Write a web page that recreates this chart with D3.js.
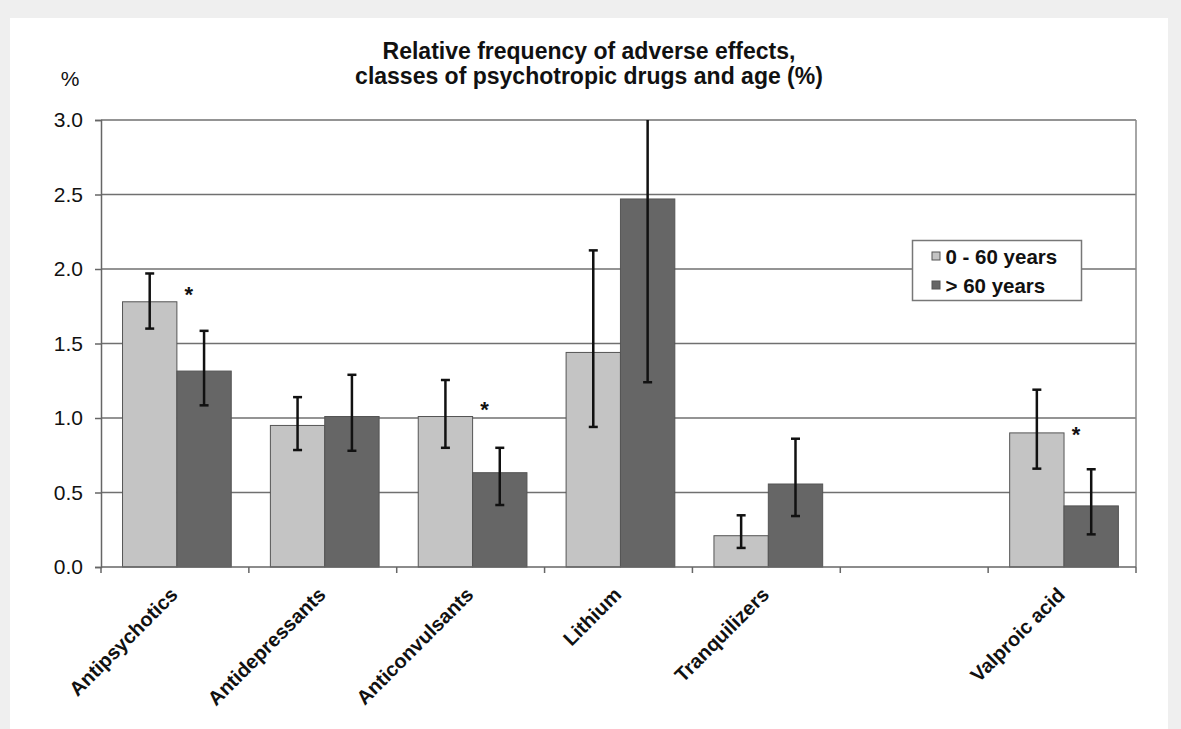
<!DOCTYPE html>
<html><head><meta charset="utf-8">
<script src="https://cdn.jsdelivr.net/npm/d3@7"></script>
<style>
html,body{margin:0;padding:0;background:#efefef;}
svg{display:block;}
text{font-family:"Liberation Sans",Arial,sans-serif;}
</style></head>
<body>
<svg id="chart" width="1181" height="729"></svg>
<script>
const categories = ["Antipsychotics","Antidepressants","Anticonvulsants","Lithium","Tranquilizers","","Valproic acid"];
const seriesNames = ["0 - 60 years","> 60 years"];
const young = [1.78, 0.95, 1.01, 1.44, 0.21, null, 0.90];
const youngLow = [1.60, 0.785, 0.80, 0.94, 0.128, null, 0.66];
const youngHigh = [1.97, 1.14, 1.255, 2.125, 0.347, null, 1.19];
const old = [1.315, 1.01, 0.633, 2.47, 0.557, null, 0.41];
const oldLow = [1.085, 0.78, 0.416, 1.24, 0.342, null, 0.219];
const oldHigh = [1.585, 1.29, 0.80, 3.0, 0.861, null, 0.656];
const starLevel = [1.86, null, 1.087, null, null, null, 0.92];
const yTicks = [0, 0.5, 1.0, 1.5, 2.0, 2.5, 3.0];
const titleLines = ["Relative frequency of adverse effects,", "classes of psychotropic drugs and age (%)"];

const svg = d3.select("#chart");
svg.append("rect").attr("x",10).attr("y",18).attr("width",1158).attr("height",720).attr("fill","#fff");

const L=101, R=1136, T=120, B=567;
const x = d3.scaleBand().domain(d3.range(categories.length)).range([L,R]).paddingInner(0).paddingOuter(0);
const inner = d3.scaleBand().domain([0,1]).range([0, x.bandwidth()]).paddingOuter(0.36).paddingInner(0).align(0.55);
const y = d3.scaleLinear().domain([0,3]).range([B,T]);

// gridlines
svg.append("g").selectAll("line").data(yTicks.filter(d=>d>0)).join("line")
  .attr("x1",L).attr("x2",R).attr("y1",d=>y(d)).attr("y2",d=>y(d))
  .attr("stroke","#707070").attr("stroke-width",1.5);
// right border
svg.append("line").attr("x1",R).attr("x2",R).attr("y1",T).attr("y2",B).attr("stroke","#888").attr("stroke-width",1.5);

// y axis
const yAxis = svg.append("g").attr("transform",`translate(${L},0)`)
  .call(d3.axisLeft(y).tickValues(yTicks).tickFormat(d3.format(".1f")).tickSize(6).tickPadding(12));
yAxis.select(".domain").attr("stroke","#666").attr("stroke-width",1.5);
yAxis.selectAll(".tick line").attr("stroke","#666").attr("stroke-width",1.5);
yAxis.selectAll("text").attr("font-size",21).attr("fill","#111").attr("font-family","Liberation Sans, Arial, sans-serif");

const colors = ["#c4c4c4","#666666"];
const groups = [young, old];
const lows = [youngLow, oldLow];
const highs = [youngHigh, oldHigh];

// bars
groups.forEach((vals,s)=>{
  svg.append("g").selectAll("rect").data(vals.map((v,i)=>({v,i})).filter(d=>d.v!=null)).join("rect")
    .attr("x",d=>x(d.i)+inner(s)).attr("width",inner.bandwidth())
    .attr("y",d=>y(d.v)).attr("height",d=>y(0)-y(d.v))
    .attr("fill",colors[s]).attr("stroke","#555").attr("stroke-width",1);
});

// x axis
const xAxis = svg.append("g").attr("transform",`translate(0,${B})`);
xAxis.append("line").attr("x1",L).attr("x2",R).attr("stroke","#666").attr("stroke-width",1.5);
xAxis.selectAll("line.t").data(d3.range(categories.length+1)).join("line").attr("class","t")
  .attr("x1",i=>L+i*x.bandwidth()).attr("x2",i=>L+i*x.bandwidth()).attr("y1",0).attr("y2",6)
  .attr("stroke","#666").attr("stroke-width",1.5);
xAxis.selectAll("text").data(categories.map((c,i)=>({c,i})).filter(d=>d.c)).join("text")
  .attr("transform",d=>`translate(${x(d.i)+x.bandwidth()/2+4},${29}) rotate(-45)`)
  .attr("text-anchor","end").attr("font-size",20).attr("font-weight","bold").attr("fill","#111")
  .text(d=>d.c);

// error bars
groups.forEach((vals,s)=>{
  const g = svg.append("g").attr("stroke","#111").attr("stroke-width",2.5);
  vals.forEach((v,i)=>{
    if(v==null) return;
    const cx = x(i)+inner(s)+inner.bandwidth()/2;
    const lo = y(lows[s][i]), hi = y(highs[s][i]);
    g.append("line").attr("x1",cx).attr("x2",cx).attr("y1",lo).attr("y2",hi);
    g.append("line").attr("x1",cx-4.5).attr("x2",cx+4.5).attr("y1",lo).attr("y2",lo);
    if(highs[s][i] < 3) g.append("line").attr("x1",cx-4.5).attr("x2",cx+4.5).attr("y1",hi).attr("y2",hi);
  });
});

// significance stars
svg.append("g").selectAll("text").data(starLevel.map((v,i)=>({v,i})).filter(d=>d.v!=null)).join("text")
  .attr("x",d=>x(d.i)+inner(1)+12)
  .attr("y",d=>y(d.v)+12)
  .attr("font-size",22).attr("font-weight","bold").attr("fill","#111").attr("text-anchor","middle")
  .text("*");

// title
svg.append("g").selectAll("text").data(titleLines).join("text")
  .attr("x",589).attr("y",(d,i)=>59+i*25).attr("text-anchor","middle")
  .attr("font-size",23).attr("font-weight","bold").attr("fill","#111").text(d=>d);
svg.append("text").attr("x",70).attr("y",86).attr("text-anchor","middle").attr("font-size",21).attr("fill","#111").text("%");

// legend
const lg = svg.append("g").attr("transform","translate(912.5,240.5)");
lg.append("rect").attr("width",169).attr("height",60).attr("fill","#fff").attr("stroke","#777").attr("stroke-width",1.5);
seriesNames.forEach((n,s)=>{
  lg.append("rect").attr("x",19.5).attr("y",11.5+s*29).attr("width",8).attr("height",8)
    .attr("fill",colors[s]).attr("stroke","#555").attr("stroke-width",1);
  lg.append("text").attr("x",33).attr("y",23+s*29).attr("font-size",20.5).attr("font-weight","bold").attr("fill","#111").text(n);
});
</script>
</body></html>
